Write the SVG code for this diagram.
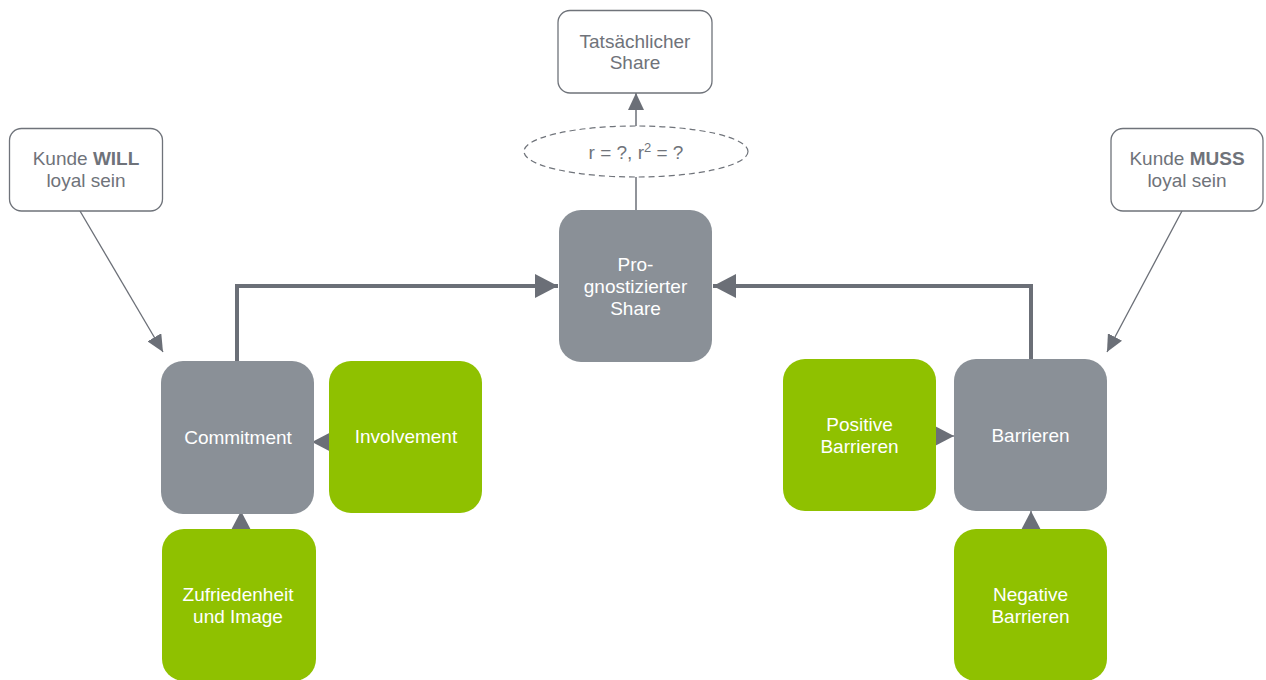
<svg xmlns="http://www.w3.org/2000/svg" width="1266" height="680" viewBox="0 0 1266 680">
<defs>
<style>
.gbox{fill:#8a9097}
.green{fill:#8fc100}
.wbox{fill:#fff;stroke:#6f737a;stroke-width:1.3}
.wt{font-family:"Liberation Sans",Arial,sans-serif;font-size:19px;fill:#fff;text-anchor:middle}
.dt{font-family:"Liberation Sans",Arial,sans-serif;font-size:19px;fill:#6f737a;text-anchor:middle}
.thick{fill:none;stroke:#6b6f77;stroke-width:4}
.thin{fill:none;stroke:#6b6f77;stroke-width:1.3}
.conn{fill:none;stroke:#6b6f77;stroke-width:1.5}
</style>
<marker id="big" markerUnits="userSpaceOnUse" markerWidth="24" markerHeight="24" refX="23" refY="12" orient="auto" viewBox="0 0 24 24">
<path d="M0,0 L23,12 L0,24 Z" fill="#6b6f77"/>
</marker>
<marker id="small" markerUnits="userSpaceOnUse" markerWidth="18" markerHeight="16" refX="17" refY="8" orient="auto" viewBox="0 0 18 16">
<path d="M0,0 L17,8 L0,16 Z" fill="#6b6f77"/>
</marker>
</defs>
<rect width="1266" height="680" fill="#fff"/>

<g id="connectors">
<path class="thick" d="M237,361 V286 H558" marker-end="url(#big)"/>
<path class="thick" d="M1031,359 V286 H713" marker-end="url(#big)"/>
<line class="conn" x1="636" y1="177" x2="636" y2="210"/>
<line class="conn" x1="636" y1="126" x2="636" y2="93" marker-end="url(#small)"/>
<line class="thin" x1="80" y1="211" x2="163" y2="352" marker-end="url(#small)"/>
<line class="thin" x1="1182" y1="211" x2="1107" y2="352" marker-end="url(#small)"/>
<line class="thin" x1="336" y1="442" x2="312" y2="442" marker-end="url(#big)"/>
<line class="thin" x1="931" y1="436" x2="954" y2="436" marker-end="url(#big)"/>
<line class="thin" x1="241" y1="536" x2="241" y2="511" marker-end="url(#big)"/>
<line class="thin" x1="1031" y1="536" x2="1031" y2="511" marker-end="url(#big)"/>
</g>

<g id="tatsaechlicher">
<rect class="wbox" x="558" y="10.5" width="154" height="82.5" rx="12"/>
<text class="dt" x="635" y="48">Tatsächlicher</text>
<text class="dt" x="635" y="69">Share</text>
</g>

<g id="r-ellipse">
<ellipse cx="636" cy="151.5" rx="112" ry="25.5" fill="#fff" stroke="#6f737a" stroke-width="1.2" stroke-dasharray="6 4"/>
<text class="dt" x="636" y="159">r = ?, r<tspan font-size="13" dy="-7">2</tspan><tspan dy="7"> = ?</tspan></text>
</g>

<g id="prognostiziert">
<rect class="gbox" x="559" y="210" width="153" height="152" rx="22"/>
<text class="wt" x="635.5" y="271">Pro-</text>
<text class="wt" x="635.5" y="293">gnostizierter</text>
<text class="wt" x="635.5" y="315">Share</text>
</g>

<g id="kunde-will">
<rect class="wbox" x="9.5" y="128.5" width="153" height="82.5" rx="12"/>
<text class="dt" x="86" y="165">Kunde <tspan font-weight="bold">WILL</tspan></text>
<text class="dt" x="86" y="187">loyal sein</text>
</g>

<g id="kunde-muss">
<rect class="wbox" x="1111" y="128.5" width="152" height="82.5" rx="12"/>
<text class="dt" x="1187" y="165">Kunde <tspan font-weight="bold">MUSS</tspan></text>
<text class="dt" x="1187" y="187">loyal sein</text>
</g>

<g id="commitment">
<rect class="gbox" x="161" y="361" width="153" height="153" rx="22"/>
<text class="wt" x="238" y="444">Commitment</text>
</g>

<g id="involvement">
<rect class="green" x="329" y="361" width="153" height="152" rx="22"/>
<text class="wt" x="406" y="443">Involvement</text>
</g>

<g id="zufriedenheit">
<rect class="green" x="162" y="529" width="154" height="152" rx="22"/>
<text class="wt" x="238" y="601">Zufriedenheit</text>
<text class="wt" x="238" y="623">und Image</text>
</g>

<g id="positive-barrieren">
<rect class="green" x="783" y="359" width="153" height="152" rx="22"/>
<text class="wt" x="859.5" y="431">Positive</text>
<text class="wt" x="859.5" y="453">Barrieren</text>
</g>

<g id="barrieren">
<rect class="gbox" x="954" y="359" width="153" height="152" rx="22"/>
<text class="wt" x="1030.5" y="442">Barrieren</text>
</g>

<g id="negative-barrieren">
<rect class="green" x="954" y="529" width="153" height="152" rx="22"/>
<text class="wt" x="1030.5" y="601">Negative</text>
<text class="wt" x="1030.5" y="623">Barrieren</text>
</g>
</svg>
